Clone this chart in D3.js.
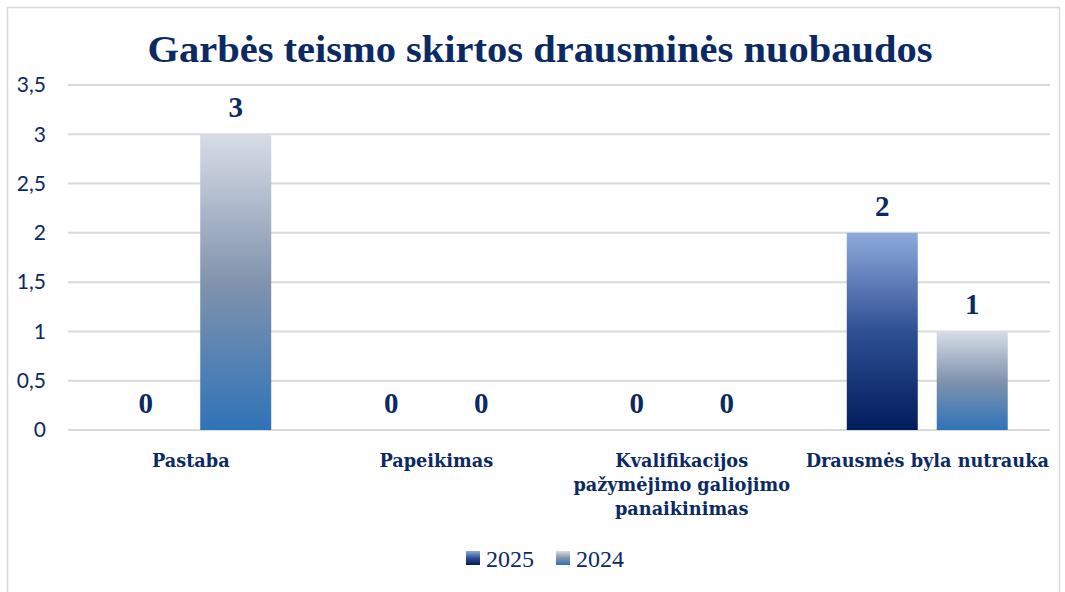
<!DOCTYPE html>
<html>
<head>
<meta charset="utf-8">
<script src="https://cdn.jsdelivr.net/npm/d3@7"></script>
<style>
  body { margin: 0; background: #fff; }
  svg { display: block; }
</style>
</head>
<body>
<svg width="1065" height="592"></svg>
<script>
// data ======================================================
var categories = ["Pastaba", "Papeikimas", "Kvalifikacijos pažymėjimo galiojimo panaikinimas", "Drausmės byla nutrauka"];
var categoryLines = [["Pastaba"], ["Papeikimas"], ["Kvalifikacijos", "pažymėjimo galiojimo", "panaikinimas"], ["Drausmės byla nutrauka"]];
var series = ["2025", "2024"];
var values2025 = [0, 0, 0, 2];
var values2024 = [3, 0, 0, 1];
var yTicks = [0, 0.5, 1, 1.5, 2, 2.5, 3, 3.5];

var navy = "#0b2a63";
var serif = "'Liberation Serif', 'DejaVu Serif', serif";
var wideSerif = "'DejaVu Serif', 'Liberation Serif', serif";

var svg = d3.select("svg");

// gradients
var defs = svg.append("defs");
var g25 = defs.append("linearGradient").attr("id", "g2025")
  .attr("x1", 0).attr("y1", 0).attr("x2", 0).attr("y2", 1);
g25.append("stop").attr("offset", "0%").attr("stop-color", "#8eaadc");
g25.append("stop").attr("offset", "50%").attr("stop-color", "#2f4f94");
g25.append("stop").attr("offset", "100%").attr("stop-color", "#001d5c");
var g24 = defs.append("linearGradient").attr("id", "g2024")
  .attr("x1", 0).attr("y1", 0).attr("x2", 0).attr("y2", 1);
g24.append("stop").attr("offset", "0%").attr("stop-color", "#d7dde6");
g24.append("stop").attr("offset", "50%").attr("stop-color", "#8193ad");
g24.append("stop").attr("offset", "100%").attr("stop-color", "#2f73b8");
var fills = { "2025": "url(#g2025)", "2024": "url(#g2024)" };

// chart frame
svg.append("rect")
  .attr("x", 7.5).attr("y", 7.5)
  .attr("width", 1052).attr("height", 600)
  .attr("fill", "none").attr("stroke", "#d9d9d9").attr("stroke-width", 1.5);

// scales
var x0 = d3.scaleBand().domain(categories).range([68, 1050]).paddingInner(0).paddingOuter(0);
var x1 = d3.scaleBand().domain(series).range([0, x0.bandwidth()]).paddingInner(0.211).paddingOuter(0.47);
var y = d3.scaleLinear().domain([0, 3.5]).range([430, 85]);

// grid
svg.append("g")
  .selectAll("line")
  .data(yTicks)
  .enter().append("line")
  .attr("x1", 68).attr("x2", 1050)
  .attr("y1", function(d) { return y(d); })
  .attr("y2", function(d) { return y(d); })
  .attr("stroke", "#d9d9d9").attr("stroke-width", 2);

// y axis labels
var yAxis = d3.axisLeft(y).tickValues(yTicks).tickSize(0).tickPadding(0)
  .tickFormat(function(d) { return String(d).replace(".", ","); });
var ya = svg.append("g").attr("transform", "translate(46,0)").call(yAxis);
ya.select(".domain").remove();
ya.selectAll("text")
  .attr("fill", navy)
  .style("font-family", "Lato, 'Open Sans', sans-serif")
  .style("font-size", "21px");

// bars
var rows = categories.map(function(c, i) {
  return { cat: c, vals: [{ s: "2025", v: values2025[i] }, { s: "2024", v: values2024[i] }] };
});
var groups = svg.append("g").selectAll("g")
  .data(rows).enter().append("g")
  .attr("transform", function(d) { return "translate(" + x0(d.cat) + ",0)"; });

groups.selectAll("rect")
  .data(function(d) { return d.vals; })
  .enter().append("rect")
  .attr("x", function(d) { return x1(d.s); })
  .attr("width", x1.bandwidth())
  .attr("y", function(d) { return y(d.v); })
  .attr("height", function(d) { return y(0) - y(d.v); })
  .attr("fill", function(d) { return fills[d.s]; });

groups.selectAll("text")
  .data(function(d) { return d.vals; })
  .enter().append("text")
  .attr("x", function(d) { return x1(d.s) + x1.bandwidth() / 2; })
  .attr("y", function(d) { return y(d.v) - 17; })
  .attr("text-anchor", "middle")
  .attr("fill", navy)
  .style("font-family", serif)
  .style("font-weight", "bold")
  .style("font-size", "29px")
  .text(function(d) { return d.v; });

// category labels
var cl = svg.append("g").selectAll("text")
  .data(categories).enter().append("text")
  .attr("text-anchor", "middle")
  .attr("fill", navy)
  .style("font-family", wideSerif)
  .style("font-weight", "bold")
  .style("font-size", "17.7px");
cl.each(function(c, i) {
  var t = d3.select(this);
  categoryLines[i].forEach(function(line, j) {
    t.append("tspan")
      .attr("x", x0(c) + x0.bandwidth() / 2)
      .attr("y", 467 + j * 24)
      .text(line);
  });
});

// title
svg.append("text")
  .attr("x", 540).attr("y", 62)
  .attr("text-anchor", "middle")
  .attr("fill", navy)
  .attr("textLength", 785)
  .attr("lengthAdjust", "spacingAndGlyphs")
  .style("font-family", serif)
  .style("font-weight", "bold")
  .style("font-size", "38px")
  .text("Garbės teismo skirtos drausminės nuobaudos");

// legend
var legend = svg.append("g").selectAll("g")
  .data(series).enter().append("g")
  .attr("transform", function(d, i) { return "translate(" + (466 + i * 90) + ",551)"; });
legend.append("rect")
  .attr("width", 14).attr("height", 14)
  .attr("fill", function(d) { return fills[d]; });
legend.append("text")
  .attr("x", 20).attr("y", 16)
  .attr("fill", navy)
  .style("font-family", serif)
  .style("font-size", "24px")
  .text(function(d) { return d; });
</script>
</body>
</html>
